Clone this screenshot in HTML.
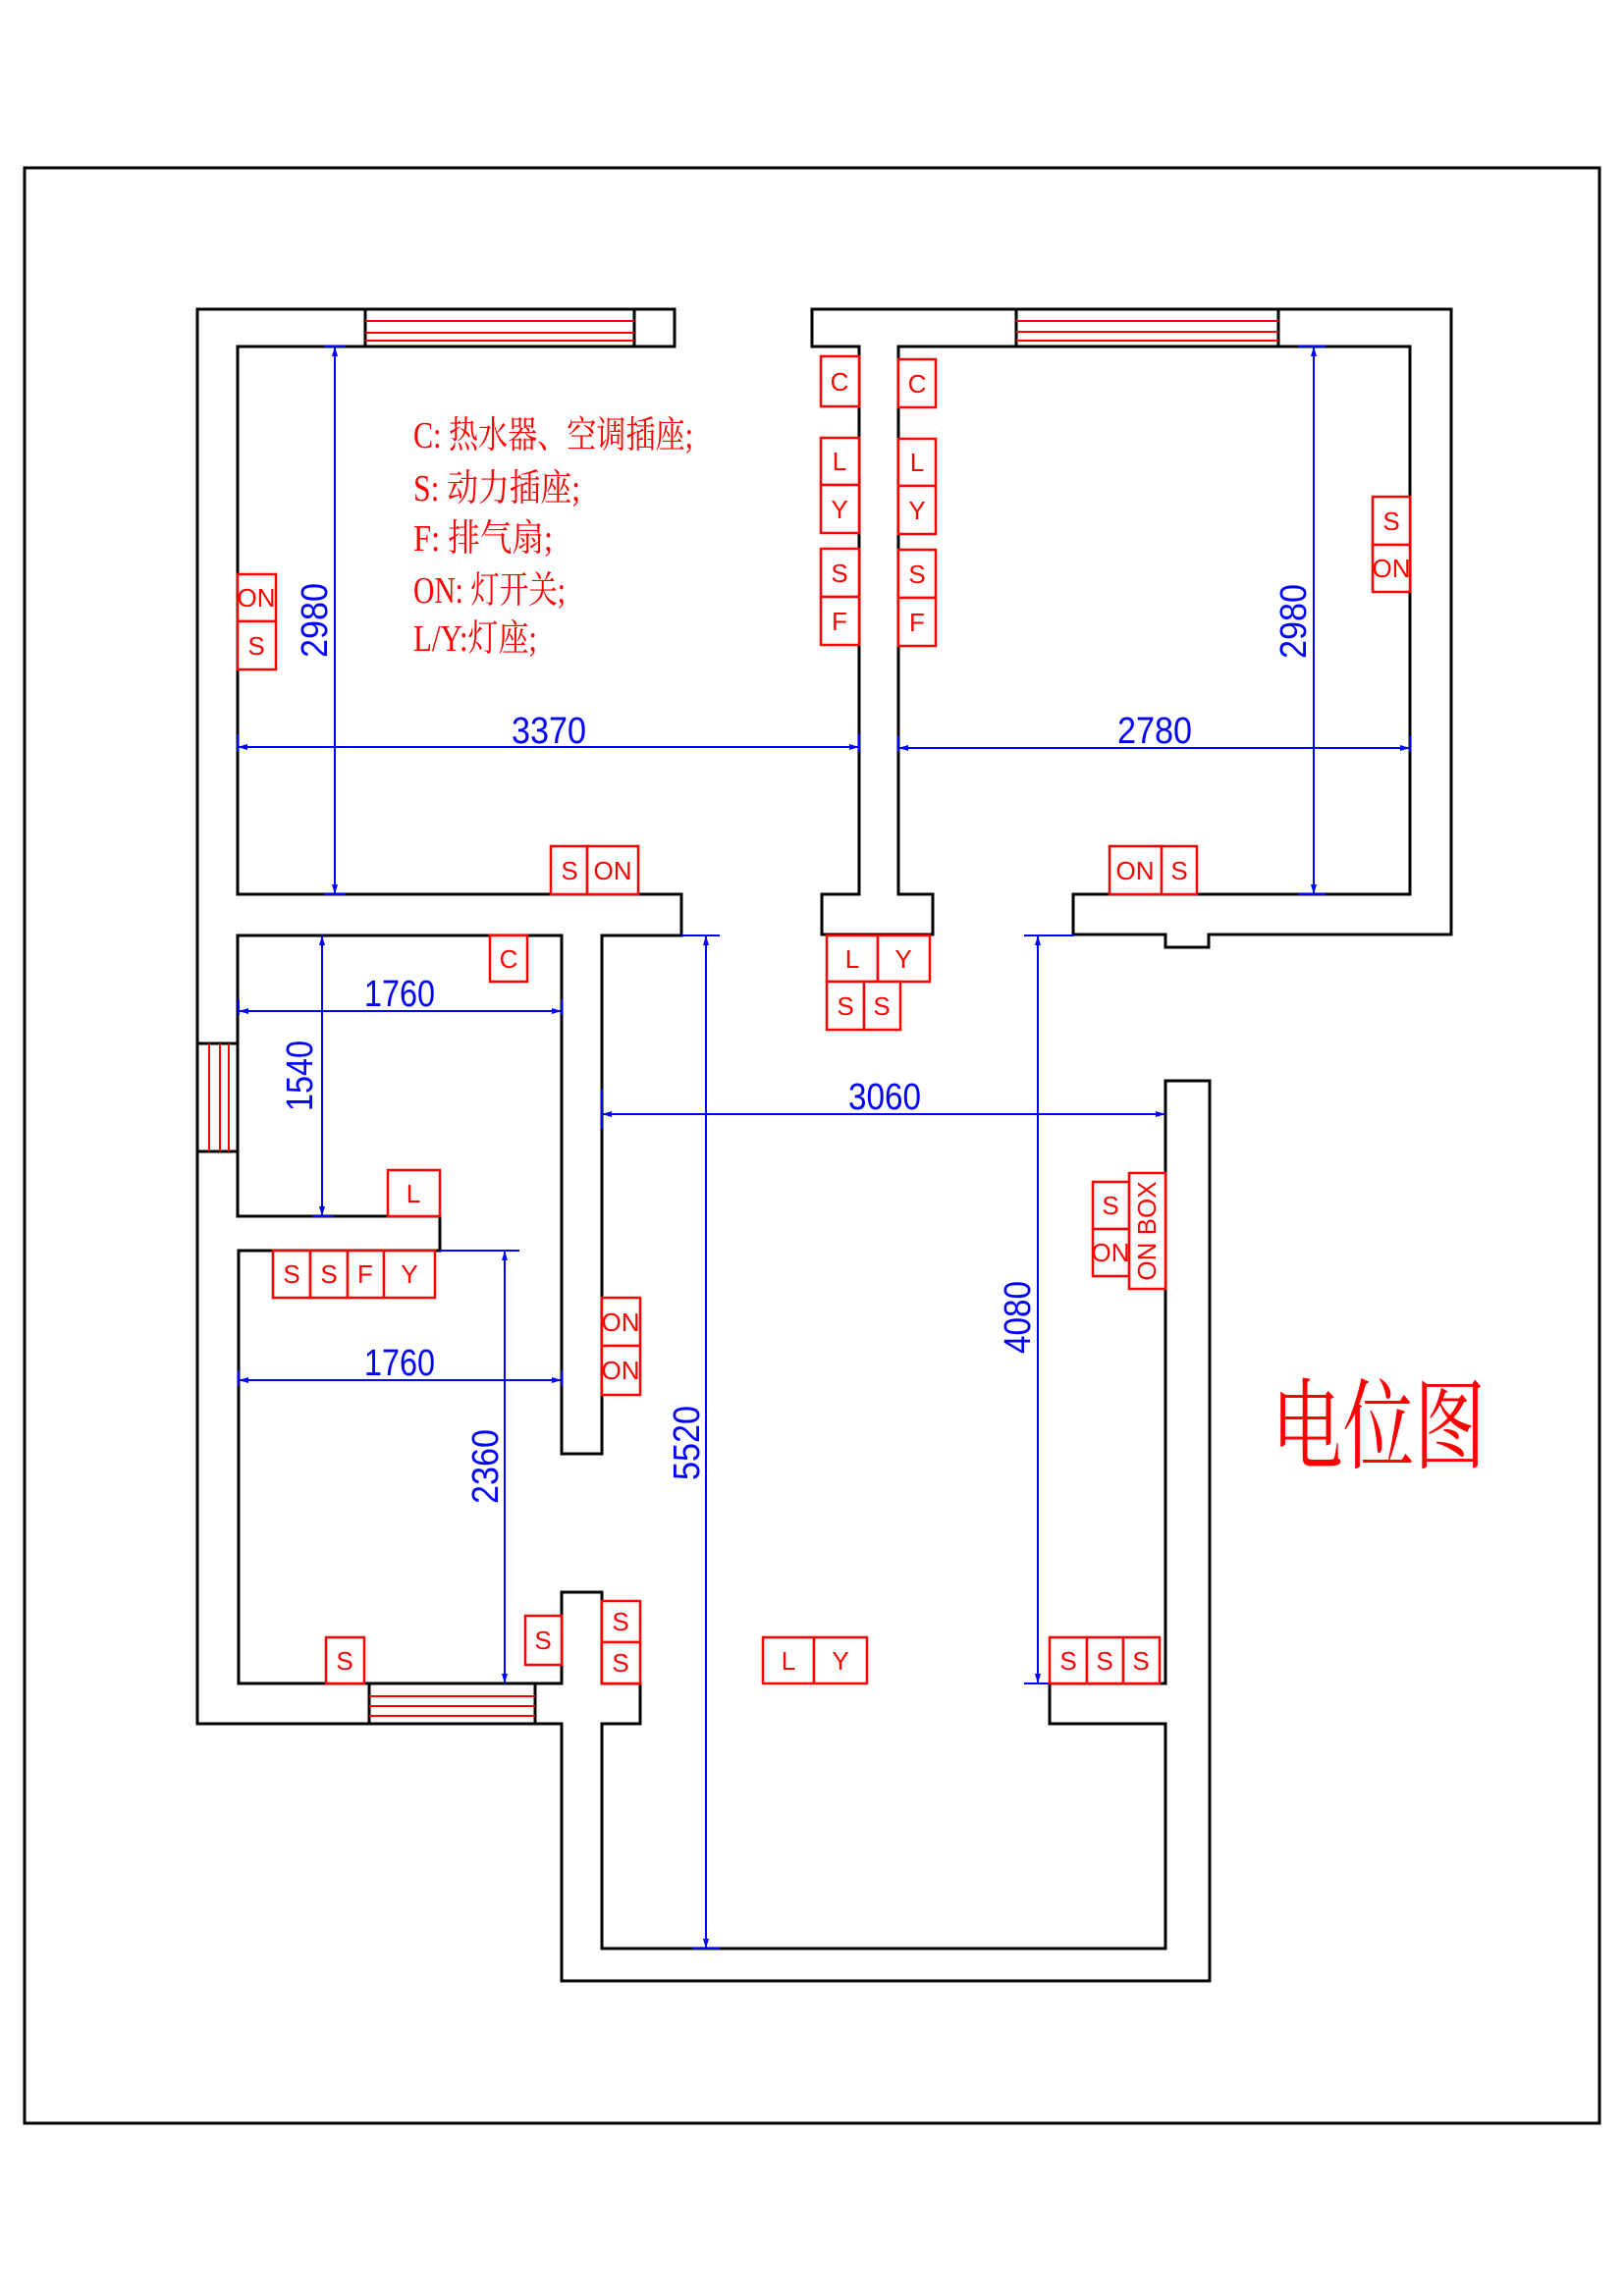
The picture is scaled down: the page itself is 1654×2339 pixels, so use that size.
<!DOCTYPE html>
<html><head><meta charset="utf-8"><style>
html,body{margin:0;padding:0;background:#fff;}
svg{display:block}
.w{fill:none;stroke:#000;stroke-width:3}
.r{fill:none;stroke:#f00;stroke-width:2}
.b{fill:#fff;stroke:#f00;stroke-width:2.5}
.bt{fill:#f00;font-family:"Liberation Sans Narrow","Liberation Sans",sans-serif;font-size:26px;text-anchor:middle}
.d{stroke:#00f;stroke-width:2;fill:none}
.dt{fill:#00f;font-family:"Liberation Sans",sans-serif;font-size:38px;font-weight:normal;text-anchor:middle}
.lg{fill:#f00;font-family:"Liberation Serif","Noto Serif CJK SC",serif;font-size:38px}
</style></head><body>
<svg width="1654" height="2339" viewBox="0 0 1654 2339" xmlns="http://www.w3.org/2000/svg">
<rect x="25" y="171" width="1604" height="1992" fill="none" stroke="#000" stroke-width="3"/>
<path class="w" d="M201 315 H687 V353 H242 V911 H694 V953 H613 V1481 H572 V953 H242 V1239 H448 V1274 H243 V1715 H572 V1622 H613 V1715 H652 V1756 H613 V1985 H1187 V1756 H1069 V1715 H1187 V1101 H1232 V2018 H572 V1756 H201 Z"/>
<path class="w" d="M827 315 H1478 V952 H1231 V965 H1187 V952 H1093 V911 H1436 V353 H915 V911 H950 V952 H837 V911 H875 V353 H827 Z"/>
<path class="w" d="M372 315 V353 M646 315 V353 M1035 315 V353 M1302 315 V353 M201 1063 H242 M201 1173 H242 M376 1715 V1756 M545 1715 V1756"/>
<path class="r" d="M372 327 H646 M372 339 H646 M372 347 H646 M1035 327 H1302 M1035 338 H1302 M1035 347 H1302 M213 1063 V1173 M224 1063 V1173 M233 1063 V1173 M376 1728 H545 M376 1738 H545 M376 1748 H545"/>
<g class="d">
<path d="M341 353 V911 M330 353 H352 M330 911 H352"/>
<path d="M242 761 H875 M242 748 V766 M875 748 V766"/>
<path d="M915 762 H1436 M915 750 V766 M1436 750 V766"/>
<path d="M1338 353 V911 M1322 353 H1350 M1322 911 H1350"/>
<path d="M243 1030 H572 M243 1018 V1034 M572 1018 V1034"/>
<path d="M328 953 V1239 M318 1239 H340"/>
<path d="M243 1406 H572 M243 1396 V1412 M572 1396 V1412"/>
<path d="M514 1274 V1715 M448 1274 H529"/>
<path d="M719 953 V1985 M694 953 H733 M705 1985 H733"/>
<path d="M613 1135 H1187 M613 1110 V1150"/>
<path d="M1057 953 V1715 M1043 953 H1094 M1043 1715 H1069"/>
</g>
<g fill="#00f">
<path d="M341 353 l-3 10 h6z M341 911 l-3 -10 h6z M242 761 l10 -3 v6z M875 761 l-10 -3 v6z M915 762 l10 -3 v6z M1436 762 l-10 -3 v6z M1338 353 l-3 10 h6z M1338 911 l-3 -10 h6z M243 1030 l10 -3 v6z M572 1030 l-10 -3 v6z M328 953 l-3 10 h6z M328 1239 l-3 -10 h6z M243 1406 l10 -3 v6z M572 1406 l-10 -3 v6z M514 1274 l-3 10 h6z M514 1715 l-3 -10 h6z M719 953 l-3 10 h6z M719 1985 l-3 -10 h6z M613 1135 l10 -3 v6z M1187 1135 l-10 -3 v6z M1057 953 l-3 10 h6z M1057 1715 l-3 -10 h6z"/>
</g>
<g class="dt">
<text x="559" y="757" textLength="76" lengthAdjust="spacingAndGlyphs">3370</text>
<text x="1176" y="757" textLength="76" lengthAdjust="spacingAndGlyphs">2780</text>
<text x="407" y="1025" textLength="72" lengthAdjust="spacingAndGlyphs">1760</text>
<text x="407" y="1401" textLength="72" lengthAdjust="spacingAndGlyphs">1760</text>
<text x="901" y="1130" textLength="74" lengthAdjust="spacingAndGlyphs">3060</text>
<text transform="translate(333 632) rotate(-90)" textLength="76" lengthAdjust="spacingAndGlyphs">2980</text>
<text transform="translate(1330 633) rotate(-90)" textLength="76" lengthAdjust="spacingAndGlyphs">2980</text>
<text transform="translate(318 1096) rotate(-90)" textLength="72" lengthAdjust="spacingAndGlyphs">1540</text>
<text transform="translate(507 1494) rotate(-90)" textLength="76" lengthAdjust="spacingAndGlyphs">2360</text>
<text transform="translate(712 1470) rotate(-90)" textLength="76" lengthAdjust="spacingAndGlyphs">5520</text>
<text transform="translate(1049 1342) rotate(-90)" textLength="74" lengthAdjust="spacingAndGlyphs">4080</text>
</g>
<g class="lg">
<text x="421" y="456" textLength="285" lengthAdjust="spacingAndGlyphs">C: 热水器、空调插座;</text>
<text x="421" y="510" textLength="170" lengthAdjust="spacingAndGlyphs">S: 动力插座;</text>
<text x="421" y="561" textLength="142" lengthAdjust="spacingAndGlyphs">F: 排气扇;</text>
<text x="421" y="614" textLength="155" lengthAdjust="spacingAndGlyphs">ON: 灯开关;</text>
<text x="421" y="663" textLength="126" lengthAdjust="spacingAndGlyphs">L/Y:灯座;</text>
</g>
<text x="1295" y="1488" fill="#f00" font-family="'Noto Serif CJK SC',serif" font-size="100" textLength="218" lengthAdjust="spacingAndGlyphs">电位图</text>
<g>
<rect class="b" x="242" y="585" width="39" height="48"/><rect class="b" x="242" y="633" width="39" height="49"/>
<rect class="b" x="561" y="862" width="37" height="49"/><rect class="b" x="598" y="862" width="52" height="49"/>
<rect class="b" x="836" y="363" width="39" height="51"/>
<rect class="b" x="836" y="446" width="39" height="48"/><rect class="b" x="836" y="494" width="39" height="49"/>
<rect class="b" x="836" y="559" width="39" height="49"/><rect class="b" x="836" y="608" width="39" height="49"/>
<rect class="b" x="915" y="366" width="38" height="49"/>
<rect class="b" x="915" y="447" width="38" height="48"/><rect class="b" x="915" y="495" width="38" height="49"/>
<rect class="b" x="915" y="560" width="38" height="49"/><rect class="b" x="915" y="609" width="38" height="49"/>
<rect class="b" x="1398" y="506" width="38" height="49"/><rect class="b" x="1398" y="555" width="38" height="48"/>
<rect class="b" x="1130" y="862" width="53" height="49"/><rect class="b" x="1183" y="862" width="36" height="49"/>
<rect class="b" x="842" y="953" width="52" height="47"/><rect class="b" x="894" y="953" width="53" height="47"/>
<rect class="b" x="842" y="1000" width="38" height="49"/><rect class="b" x="880" y="1000" width="37" height="49"/>
<rect class="b" x="499" y="953" width="38" height="47"/>
<rect class="b" x="395" y="1192" width="53" height="47"/>
<rect class="b" x="278" y="1274" width="38" height="48"/><rect class="b" x="316" y="1274" width="38" height="48"/><rect class="b" x="354" y="1274" width="37" height="48"/><rect class="b" x="391" y="1274" width="52" height="48"/>
<rect class="b" x="613" y="1322" width="39" height="49"/><rect class="b" x="613" y="1371" width="39" height="50"/>
<rect class="b" x="332" y="1668" width="39" height="47"/>
<rect class="b" x="535" y="1646" width="37" height="50"/>
<rect class="b" x="613" y="1631" width="39" height="42"/><rect class="b" x="613" y="1673" width="39" height="42"/>
<rect class="b" x="777" y="1668" width="52" height="47"/><rect class="b" x="829" y="1668" width="54" height="47"/>
<rect class="b" x="1069" y="1668" width="38" height="47"/><rect class="b" x="1107" y="1668" width="37" height="47"/><rect class="b" x="1144" y="1668" width="37" height="47"/>
<rect class="b" x="1113" y="1204" width="37" height="48"/><rect class="b" x="1113" y="1252" width="37" height="48"/>
<rect class="b" x="1150" y="1195" width="37" height="118"/>
</g>
<g class="bt">
<text x="261" y="618">ON</text><text x="261" y="667">S</text>
<text x="580" y="896">S</text><text x="624" y="896">ON</text>
<text x="855" y="398">C</text>
<text x="855" y="479">L</text><text x="855" y="528">Y</text>
<text x="855" y="593">S</text><text x="855" y="642">F</text>
<text x="934" y="400">C</text>
<text x="934" y="480">L</text><text x="934" y="529">Y</text>
<text x="934" y="594">S</text><text x="934" y="643">F</text>
<text x="1417" y="540">S</text><text x="1417" y="588">ON</text>
<text x="1156" y="896">ON</text><text x="1201" y="896">S</text>
<text x="868" y="986">L</text><text x="920" y="986">Y</text>
<text x="861" y="1034">S</text><text x="898" y="1034">S</text>
<text x="518" y="986">C</text>
<text x="421" y="1225">L</text>
<text x="297" y="1307">S</text><text x="335" y="1307">S</text><text x="372" y="1307">F</text><text x="417" y="1307">Y</text>
<text x="632" y="1356">ON</text><text x="632" y="1405">ON</text>
<text x="351" y="1701">S</text>
<text x="553" y="1680">S</text>
<text x="632" y="1661">S</text><text x="632" y="1703">S</text>
<text x="803" y="1701">L</text><text x="856" y="1701">Y</text>
<text x="1088" y="1701">S</text><text x="1125" y="1701">S</text><text x="1162" y="1701">S</text>
<text x="1131" y="1237">S</text><text x="1131" y="1285">ON</text>
<text transform="translate(1177 1254) rotate(-90)">ON BOX</text>
</g>
</svg>
</body></html>
